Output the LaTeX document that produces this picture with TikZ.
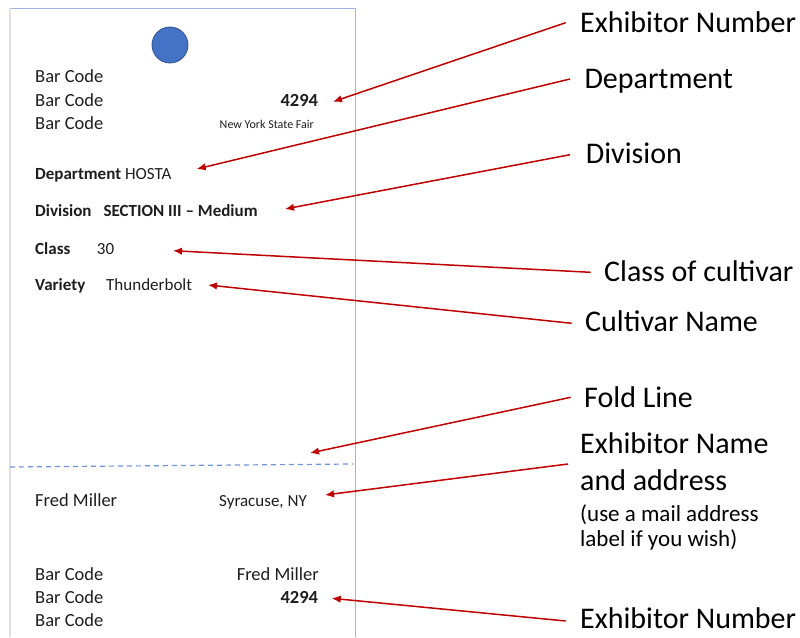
\documentclass[tikz,border=0pt]{standalone}
\usepackage{fontspec}
\setmainfont{Carlito}
\usetikzlibrary{arrows.meta}
\definecolor{arrowred}{HTML}{C00000}
\definecolor{cardblue}{HTML}{9DB6E0}
\definecolor{foldblue}{HTML}{6F94DC}
\definecolor{circfill}{HTML}{4472C4}
\definecolor{circline}{HTML}{2F528F}
\definecolor{txtgray}{HTML}{1E1E1E}
\begin{document}
\begin{tikzpicture}[x=1pt,y=-1pt,
 cardtxt/.style={inner sep=0pt, text=txtgray, font=\fontsize{18.5}{22}\selectfont},
 fieldtxt/.style={inner sep=0pt, text=txtgray, font=\fontsize{17}{20}\selectfont},
 smalltxt/.style={inner sep=0pt, text=txtgray, font=\fontsize{12}{14}\selectfont},
 labeltxt/.style={inner sep=0pt, anchor=base west, font=\fontsize{30}{36}\selectfont},
 notetxt/.style={inner sep=0pt, anchor=base west, font=\fontsize{23}{28}\selectfont},
 pointer/.style={draw=arrowred, line width=1.5pt, -{Latex[length=9pt,width=7.5pt]}},
]
\useasboundingbox (0,0) rectangle (800,637);
\fill[white] (0,0) rectangle (800,637);
% card outline
\draw[black!12, line width=1.8pt] (10,8) -- (10,637);
\draw[cardblue, line width=1pt] (10.5,8) -- (355,8) -- (355,637);
\draw[foldblue, line width=1.2pt, dash pattern=on 5pt off 4pt] (10,467) -- (353,464);
\node[circle, fill=circfill, draw=circline, line width=0.8pt, minimum size=36pt, inner sep=0pt] (hole) at (170,45) {};
% top part texts
\node[cardtxt, anchor=base west] (bc1) at (35,82.7) {Bar Code};
\node[cardtxt, anchor=base west] (bc2) at (35,106) {Bar Code};
\node[cardtxt, anchor=base west] (bc3) at (35,129) {Bar Code};
\node[cardtxt, anchor=base east, font=\fontsize{18.5}{22}\selectfont\bfseries] (num1) at (318.3,106) {4294};
\node[smalltxt, anchor=base east] (fair) at (314,128) {New York State Fair};
\node[fieldtxt, anchor=base west] (dept) at (35,179.3) {\textbf{Department} HOSTA};
\node[fieldtxt, anchor=base west, font=\fontsize{17}{20}\selectfont\bfseries] (divl) at (35,216.7) {Division};
\node[fieldtxt, anchor=base west, font=\fontsize{17}{20}\selectfont\bfseries] (divv) at (103.3,216.7) {SECTION III – Medium};
\node[fieldtxt, anchor=base west, font=\fontsize{17}{20}\selectfont\bfseries] (clsl) at (35,254) {Class};
\node[fieldtxt, anchor=base west] (clsv) at (96.7,254) {30};
\node[fieldtxt, anchor=base west, font=\fontsize{17}{20}\selectfont\bfseries] (varl) at (35,290) {Variety};
\node[fieldtxt, anchor=base west] (varv) at (106,290) {Thunderbolt};
% bottom part texts
\node[cardtxt, anchor=base west] (name1) at (35,506.7) {Fred Miller};
\node[cardtxt, anchor=base west, font=\fontsize{17}{20}\selectfont] (city) at (219,506.7) {Syracuse, NY};
\node[cardtxt, anchor=base west] (bc4) at (35,580.7) {Bar Code};
\node[cardtxt, anchor=base west] (bc5) at (35,603.3) {Bar Code};
\node[cardtxt, anchor=base west] (bc6) at (35,626.7) {Bar Code};
\node[cardtxt, anchor=base east] (name2) at (319,580.7) {Fred Miller};
\node[cardtxt, anchor=base east, font=\fontsize{18.5}{22}\selectfont\bfseries] (num2) at (318.3,603.3) {4294};
% right labels
\node[labeltxt] (l1) at (580,32) {Exhibitor Number};
\node[labeltxt] (l2) at (584.3,88) {Department};
\node[labeltxt] (l3) at (585.7,163) {Division};
\node[labeltxt] (l4) at (604,281.7) {Class of cultivar};
\node[labeltxt] (l5) at (585,331.7) {Cultivar Name};
\node[labeltxt] (l6) at (584,407.7) {Fold Line};
\node[labeltxt] (l7) at (580,453) {Exhibitor Name};
\node[labeltxt] (l7b) at (580,490) {and address};
\node[notetxt] (n1) at (580,521.7) {(use a mail address};
\node[notetxt] (n2) at (580,546.7) {label if you wish)};
\node[labeltxt] (l8) at (580,628) {Exhibitor Number};
% connector ends
\coordinate (s1) at (565.7,22.7); \coordinate (t1) at (333,101.7);
\coordinate (s2) at (570,79);     \coordinate (t2) at (196.7,169);
\coordinate (s3) at (570,154.7);  \coordinate (t3) at (285,209);
\coordinate (s4) at (590.7,272.3);\coordinate (t4) at (173,250.7);
\coordinate (s5) at (571.7,323.3);\coordinate (t5) at (208,285);
\coordinate (s6) at (570.7,397.3);\coordinate (t6) at (310,453);
\coordinate (s7) at (568,464);    \coordinate (t7) at (325,495);
\coordinate (s8) at (565.7,621);  \coordinate (t8) at (331.7,598.3);
\foreach \i in {1,...,8} {\draw[pointer] (s\i) -- (t\i);}
\end{tikzpicture}
\end{document}
